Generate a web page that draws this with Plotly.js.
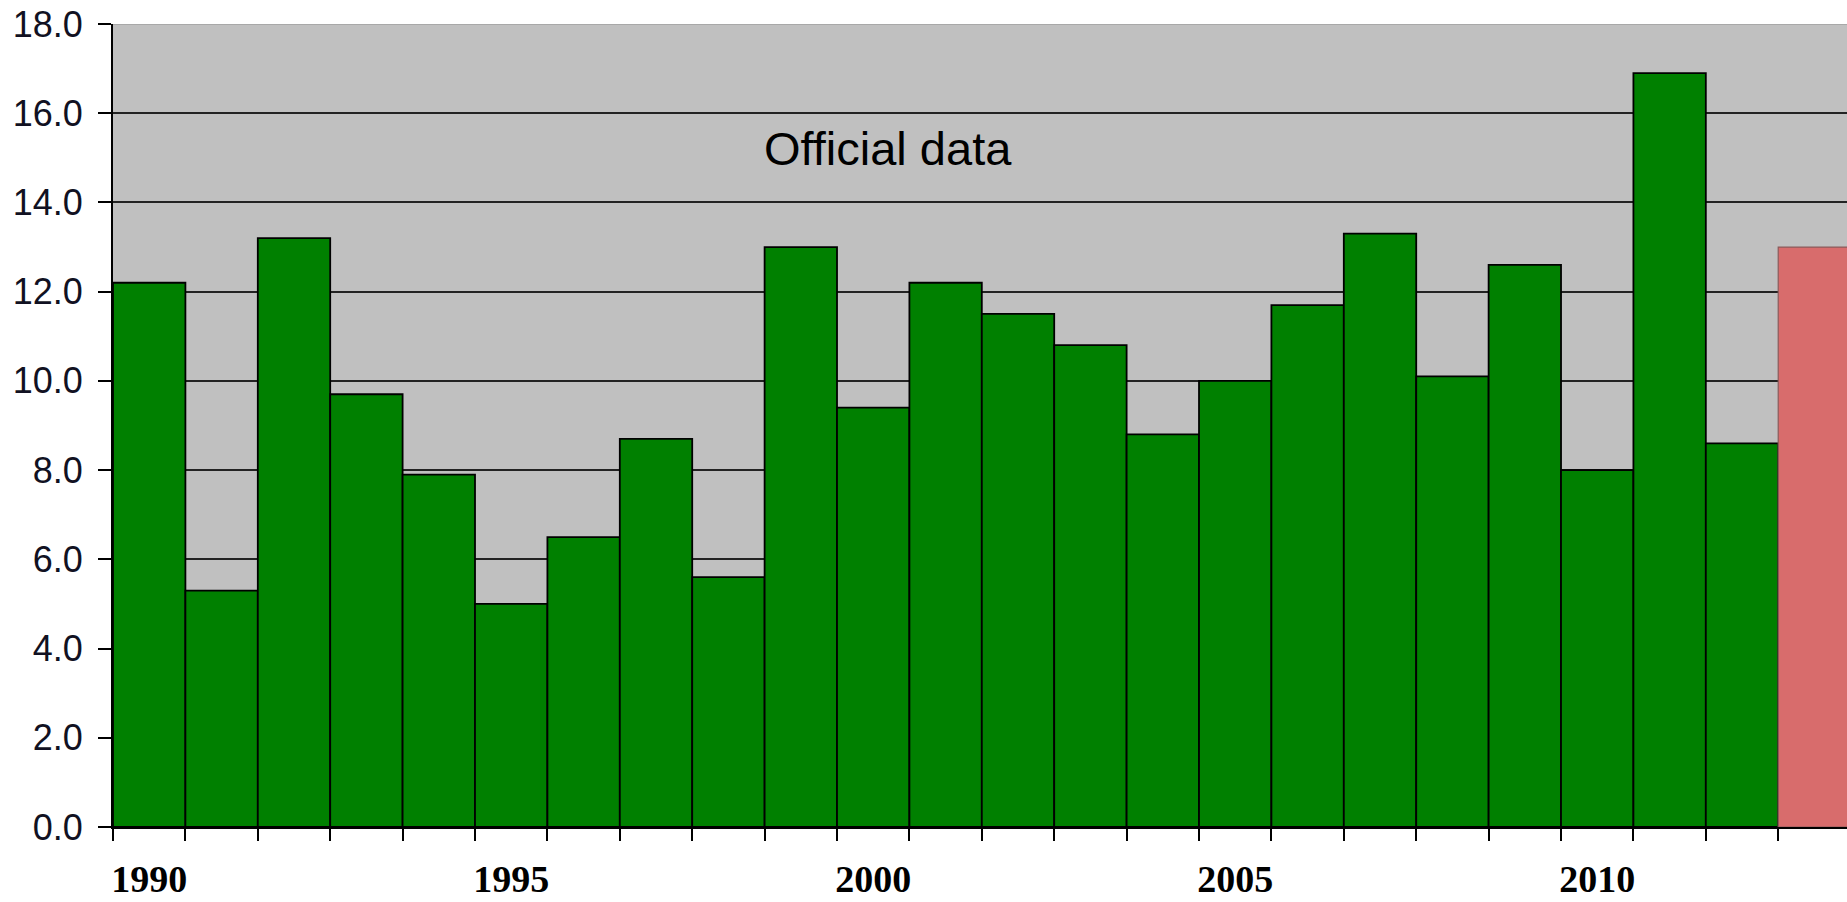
<!DOCTYPE html>
<html>
<head>
<meta charset="utf-8">
<script src="https://cdn.plot.ly/plotly-3.0.1.min.js"></script>
<style>
  html, body { margin: 0; padding: 0; background: #fff; }
  #chart { width: 1847px; height: 902px; }
</style>
</head>
<body>
<div id="chart"></div>
<script>
// Data
const years = [1990, 1991, 1992, 1993, 1994, 1995, 1996, 1997, 1998, 1999, 2000, 2001,
               2002, 2003, 2004, 2005, 2006, 2007, 2008, 2009, 2010, 2011, 2012];
const officialValues = [12.2, 5.3, 13.2, 9.7, 7.9, 5.0, 6.5, 8.7, 5.6, 13.0, 9.4, 12.2,
                        11.5, 10.8, 8.8, 10.0, 11.7, 13.3, 10.1, 12.6, 8.0, 16.9, 8.6];
const extraYears = [2013];
const extraValues = [13.0];
const labelYears = [1990, 1995, 2000, 2005, 2010];
const labelText = ["1990", "1995", "2000", "2005", "2010"];
const annotationText = "Official data";

const traces = [
  {
    type: 'bar',
    x: years,
    y: officialValues,
    width: 1,
    marker: { color: '#008000', line: { color: '#000000', width: 1.8 } },
    hoverinfo: 'x+y',
    showlegend: false
  },
  {
    type: 'bar',
    x: extraYears,
    y: extraValues,
    width: 1,
    marker: { color: '#d86c6c', line: { color: '#8a5a5a', width: 1.2 } },
    hoverinfo: 'x+y',
    showlegend: false
  }
];

const layout = {
  width: 1847,
  height: 902,
  margin: { l: 113, r: 0, t: 24, b: 75 },
  paper_bgcolor: '#ffffff',
  plot_bgcolor: '#c0c0c0',
  barmode: 'overlay',
  bargap: 0,
  showlegend: false,
  xaxis: {
    range: [1989.5, 2013.45],
    tickmode: 'array',
    tickvals: labelYears,
    ticktext: labelText,
    ticks: '',
    ticklabelstandoff: 17,
    tickfont: { family: 'Liberation Serif, Times New Roman, serif', size: 38, color: '#000000', weight: 'bold' },
    showgrid: false,
    zeroline: false,
    showline: true,
    linecolor: '#000000',
    linewidth: 2,
    minor: {
      tick0: 1989.5,
      dtick: 1,
      ticks: 'outside',
      ticklen: 12,
      tickwidth: 2,
      tickcolor: '#000000',
      showgrid: false
    }
  },
  yaxis: {
    range: [0, 18],
    dtick: 2,
    tick0: 0,
    tickformat: '.1f',
    ticks: 'outside',
    ticklen: 13,
    tickwidth: 2,
    tickcolor: '#000000',
    ticklabelstandoff: 8,
    tickfont: { family: 'Liberation Sans, Arial, sans-serif', size: 36, color: '#111122' },
    showgrid: true,
    gridcolor: '#222222',
    gridwidth: 2,
    zeroline: false,
    showline: true,
    linecolor: '#000000',
    linewidth: 2
  },
  shapes: [
    {
      type: 'line', xref: 'paper', x0: 0, x1: 1, yref: 'y', y0: 18, y1: 18,
      line: { color: '#a8a8a8', width: 2 }, layer: 'above'
    }
  ],
  annotations: [
    {
      text: annotationText,
      x: 2000.2,
      y: 15.2,
      xref: 'x',
      yref: 'y',
      showarrow: false,
      xanchor: 'center',
      yanchor: 'middle',
      font: { family: 'Liberation Sans, Arial, sans-serif', size: 47, color: '#000000' }
    }
  ]
};

Plotly.newPlot('chart', traces, layout, { displayModeBar: false, staticPlot: true });
</script>
</body>
</html>
